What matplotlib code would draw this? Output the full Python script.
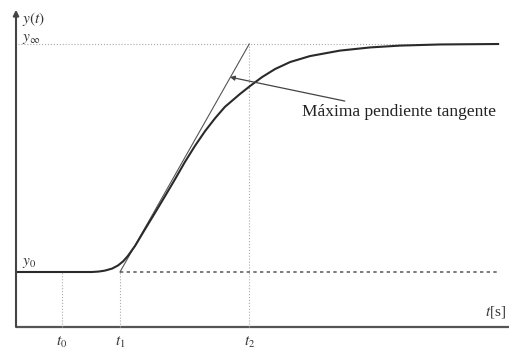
import matplotlib
matplotlib.use('Agg')
import matplotlib.pyplot as plt

plt.rcParams['font.family'] = ['Liberation Serif', 'DejaVu Serif']
plt.rcParams['mathtext.fontset'] = 'stix'

# Step response (t in s, y normalised: y0 = 0, y_inf = 1)
t_curve = [0.00, 1.65, 1.80, 1.93, 2.09, 2.22, 2.33, 2.43, 2.59, 2.80, 3.02, 3.24,
           3.46, 3.67, 3.89, 4.11, 4.33, 4.54, 4.87, 5.09, 5.35, 5.63, 5.96, 6.39,
           7.04, 7.70, 8.35, 9.22, 10.48]
y_curve = [0.000, 0.000, 0.002, 0.006, 0.015, 0.029, 0.047, 0.070, 0.115, 0.186,
           0.259, 0.333, 0.408, 0.482, 0.553, 0.618, 0.675, 0.724, 0.781, 0.816,
           0.855, 0.890, 0.921, 0.947, 0.971, 0.985, 0.993, 0.998, 1.000]

# Characteristic times and levels
t0, t1, t2 = 1.00, 2.26, 5.07
y0, y_inf = 0.0, 1.0
t_end = 10.48

fig = plt.figure(figsize=(5.10, 3.51), dpi=100)
ax = fig.add_axes([0, 0, 1, 1])
ax.set_xlim(-0.348, 10.739)
ax.set_ylim(-0.3465, 1.193)
ax.axis('off')

x_axis_y = -0.241

# Axes drawn by hand
ax.plot([0, 10.8], [x_axis_y, x_axis_y], color='#555555', lw=1.6, solid_capstyle='butt')
ax.annotate('', xy=(0, 1.15), xytext=(0, x_axis_y),
            arrowprops=dict(arrowstyle='-|>', color='#444444', lw=1.5,
                            mutation_scale=8, shrinkA=0, shrinkB=0))

# Guide lines
ax.plot([0.04, t_end], [y_inf, y_inf], color='#aaaaaa', lw=0.8, ls=':')
ax.plot([t0, t0], [x_axis_y, y0], color='#aaaaaa', lw=0.8, ls=':')
ax.plot([t1, t1], [x_axis_y, y0], color='#aaaaaa', lw=0.8, ls=':')
ax.plot([t2, t2], [x_axis_y, y_inf], color='#aaaaaa', lw=0.8, ls=':')
ax.plot([t1, t_end], [y0, y0], color='#666666', lw=1.2, ls=(0, (2, 2)))

# Tangent at the point of maximum slope
ax.plot([t1, t2], [y0, y_inf], color='#555555', lw=0.8)

# Response curve
ax.plot(t_curve, y_curve, color='#2a2a2a', lw=1.5)

# Annotation
ax.annotate('Máxima pendiente tangente', xy=(4.65, 0.855), xytext=(6.22, 0.70),
            fontsize=12.5, color='#222222', va='center', ha='left',
            arrowprops=dict(arrowstyle='-|>', color='#444444', lw=0.9,
                            mutation_scale=7, shrinkA=2, shrinkB=0))

# Labels
lab = dict(color='#333333', fontsize=11)
ax.text(0.13, 1.11, r'$y(t)$', va='center', ha='left', **lab)
ax.text(0.13, 1.02, r'$y_\infty$', va='center', ha='left', **lab)
ax.text(0.13, 0.04, r'$y_0$', va='center', ha='left', **lab)
ax.text(10.66, -0.175, r'$t$[s]', va='center', ha='right', **lab)
ax.text(t0, -0.341, r'$t_0$', va='bottom', ha='center', **lab)
ax.text(t1, -0.341, r'$t_1$', va='bottom', ha='center', **lab)
ax.text(t2, -0.341, r'$t_2$', va='bottom', ha='center', **lab)

fig.savefig('out.png', dpi=100, facecolor='white')
